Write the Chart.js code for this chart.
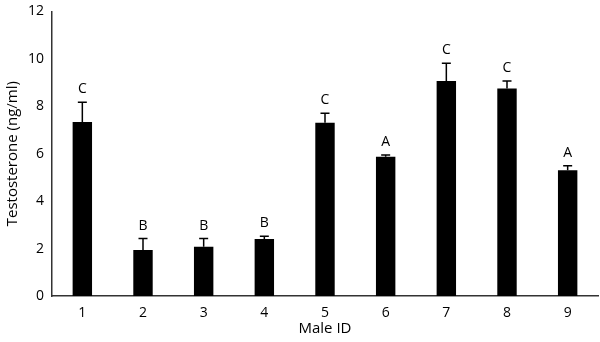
<!DOCTYPE html>
<html>
<head>
<meta charset="utf-8">
<script src="https://cdn.jsdelivr.net/npm/chart.js@4"></script>
<style>
    html, body { margin: 0; padding: 0; background: #fff; }
    #wrap { width: 600px; height: 342px; }
</style>
</head>
<body>
<div id="wrap"><canvas id="testoChart" width="600" height="342"></canvas></div>
<script>
const maleIds = ['1', '2', '3', '4', '5', '6', '7', '8', '9'];
const testosterone = [7.34, 1.94, 2.08, 2.40, 7.30, 5.87, 9.07, 8.75, 5.30];
const errorTop = [8.17, 2.42, 2.42, 2.52, 7.71, 5.95, 9.81, 9.07, 5.49];
const groupLetters = ['C', 'B', 'B', 'B', 'C', 'A', 'C', 'C', 'A'];
const yTicks = [0, 2, 4, 6, 8, 10, 12];

const fontFamily = '"Open Sans", sans-serif';

//* error bars (upper only) + letters above them
const errorBarPlugin = {
    id: 'errorBars',
    afterDatasetsDraw(chart) {
        const ctx = chart.ctx;
        const meta = chart.getDatasetMeta(0);
        const y = chart.scales.y;
        ctx.save();
        ctx.strokeStyle = '#000';
        ctx.lineWidth = 1.5;
        meta.data.forEach((bar, i) => {
            const yBar = y.getPixelForValue(testosterone[i]);
            const yErr = y.getPixelForValue(errorTop[i]);
            ctx.beginPath();
            ctx.moveTo(bar.x, yBar);
            ctx.lineTo(bar.x, yErr);
            ctx.moveTo(bar.x - 4.5, yErr);
            ctx.lineTo(bar.x + 4.5, yErr);
            ctx.stroke();

            ctx.fillStyle = '#000';
            ctx.font = '500 14px ' + fontFamily;
            ctx.textAlign = 'center';
            ctx.textBaseline = 'middle';
            ctx.fillText(groupLetters[i], bar.x, yErr - 13);
        });
        ctx.restore();
    }
};

const data = {
    labels: maleIds,
    datasets: [{
        data: testosterone,
        backgroundColor: '#000',
        borderWidth: 0,
        barPercentage: 0.32,
        categoryPercentage: 1.0
    }]
};

const config = {
    type: 'bar',
    data: data,
    options: {
        responsive: false,
        animation: false,
        layout: { padding: { top: 7, right: 2, left: 0, bottom: 0 } },
        plugins: {
            legend: { display: false },
            tooltip: { enabled: false }
        },
        scales: {
            x: {
                grid: { display: false, drawTicks: false },
                border: { color: '#333', width: 1.5 },
                ticks: { color: '#000', font: { size: 14, family: fontFamily }, padding: 9 },
                title: {
                    display: true,
                    text: 'Male ID',
                    color: '#000',
                    font: { size: 15, family: fontFamily },
                    padding: { top: 0 }
                },
                afterFit(scale) { scale.height = 46; }
            },
            y: {
                min: 0,
                max: 12,
                afterBuildTicks(scale) { scale.ticks = yTicks.map(v => ({ value: v })); },
                grid: { display: false, drawTicks: true, tickLength: 5, tickColor: '#333', tickWidth: 1.5 },
                border: { color: '#333', width: 1.5 },
                ticks: { color: '#000', font: { size: 14, family: fontFamily }, padding: 3 },
                title: {
                    display: true,
                    text: 'Testosterone (ng/ml)',
                    color: '#000',
                    font: { size: 15, family: fontFamily },
                    padding: { bottom: 0 }
                },
                afterFit(scale) { scale.width = 52; }
            }
        }
    },
    plugins: [errorBarPlugin]
};

var myChart = new Chart(document.getElementById('testoChart'), config);
</script>
</body>
</html>
